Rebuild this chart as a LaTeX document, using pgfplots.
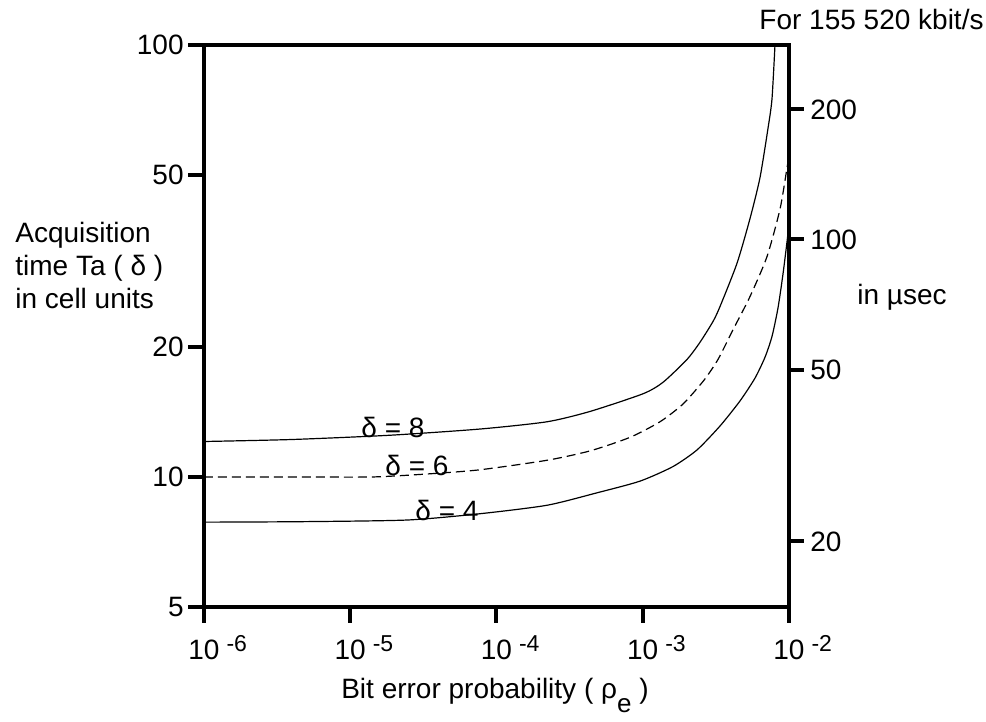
\documentclass[border=0pt]{standalone}
\usepackage{fontspec}
\setmainfont{Liberation Sans}
\usepackage{pgfplots}
\pgfplotsset{compat=1.18}

\pgfplotsset{
  boxaxis/.style={
    at={(0pt,0pt)}, anchor=south west,
    scale only axis, width=292.5pt, height=281pt,
    xmin=1e-6, xmax=1e-2,
    xminorticks=false, yminorticks=false,
    tick align=outside,
    tick style={line width=2pt, black},
    axis line style={line width=2pt, -},
  },
}
\newcommand{\dec}[1]{10\rlap{\hspace{3.5pt}\raisebox{4.2pt}{\fontsize{11.5}{11.5}\selectfont -#1}}}

\begin{document}
\fontsize{14}{16.5}\selectfont
\begin{tikzpicture}
% box, x ticks and the curves (cell units)
\begin{axis}[
    xmode=log, ymode=log,
    boxaxis,
    ymin=5, ymax=100,
    xtick={1e-6,1e-5,1e-4,1e-3,1e-2},
    xticklabels={\dec{6},\dec{5},\dec{4},\dec{3},\dec{2}},
    ytick=\empty,
    xtick pos=bottom,
    major tick length=8pt,
    xticklabel style={inner ysep=6pt},
]
% delta = 8
\addplot[black, line width=0.6pt, smooth, tension=0.4] coordinates {
    (1e-6,12.08) (4.0e-6,12.21) (1.87e-5,12.49) (7.71e-5,12.91)
    (2.215e-4,13.42) (4.36e-4,14.18) (1.004e-3,15.58) (1.375e-3,16.56)
    (2.007e-3,18.71) (2.463e-3,20.5) (3.022e-3,22.9) (3.375e-3,24.8)
    (4.41e-3,31.23) (5.41e-3,39.62) (6.33e-3,49.25) (7.18e-3,64.0)
    (7.65e-3,74.9) (8.02e-3,100)
};
% delta = 6
\addplot[black, line width=0.6pt, smooth, tension=0.4, dash pattern=on 4.5pt off 2.5pt] coordinates {
    (1e-6,10.0) (4.53e-6,10.0) (1.43e-5,10.0) (3.51e-5,10.17)
    (7.71e-5,10.39) (2.215e-4,10.93) (4.36e-4,11.49) (8.18e-4,12.35)
    (1.312e-3,13.42) (1.885e-3,14.75) (2.623e-3,16.75) (3.27e-3,18.71)
    (4.14e-3,21.91) (5.41e-3,26.15) (7.07e-3,32.35) (8.68e-3,41.67)
    (9.69e-3,51.9) (1e-2,55.3)
};
% delta = 4
\addplot[black, line width=0.6pt, smooth, tension=0.4] coordinates {
    (1e-6,7.86) (4.53e-6,7.88) (2.44e-5,7.95) (7.71e-5,8.22)
    (2.215e-4,8.60) (4.87e-4,9.19) (9.58e-4,9.78) (1.61e-3,10.57)
    (2.35e-3,11.55) (3.375e-3,13.12) (4.62e-3,14.99) (5.85e-3,16.93)
    (6.85e-3,18.92) (7.65e-3,21.14) (8.41e-3,24.61) (9.10e-3,29.5)
    (9.69e-3,35.0) (1e-2,38.5)
};
\end{axis}
% left y ticks (cell units)
\begin{axis}[
    xmode=log, ymode=log,
    boxaxis,
    ymin=5, ymax=100,
    axis x line=none, axis y line*=left,
    ytick={5,10,20,50,100},
    yticklabels={5,10,20,50,100},
    major tick length=8pt,
    yticklabel style={inner xsep=2pt},
]
\addplot[draw=none] coordinates {(1e-6,10) (1e-2,50)};
\end{axis}
% right y ticks: microseconds at 155 520 kbit/s
\begin{axis}[
    xmode=log, ymode=log,
    boxaxis,
    ymin=14.1, ymax=282,
    axis x line=none, axis y line*=right,
    ytick={20,50,100,200},
    yticklabels={20,50,100,200},
    major tick length=7.5pt,
    yticklabel style={inner xsep=3pt},
]
\addplot[draw=none] coordinates {(1e-6,20) (1e-2,200)};
\end{axis}

\node[anchor=west, align=left, inner sep=0pt, font=\fontsize{14}{16.5}\selectfont] at (-94.5pt,171pt)
    {Acquisition\\time Ta ( δ )\\in cell units};
\node[anchor=west, inner sep=0pt] at (326.5pt,155pt) {in µsec};
\node[anchor=east, inner sep=0pt] at (390pt,293.5pt) {For 155 520 kbit/s};
\node[anchor=base] at (145.5pt,-46pt)
    {Bit error probability ( ρ\raisebox{-0.5em}{\fontsize{13}{13}\selectfont e} )};
\node at (94.5pt,90pt) {δ = 8};
\node at (106.5pt,71pt) {δ = 6};
\node at (121.5pt,48.5pt) {δ = 4};

\pgfresetboundingbox
\path[use as bounding box] (-102pt,-57.5pt) rectangle (391pt,303.5pt);
\end{tikzpicture}
\end{document}
